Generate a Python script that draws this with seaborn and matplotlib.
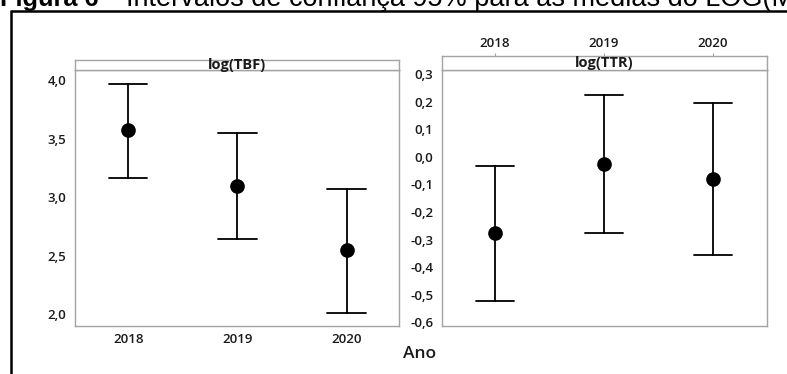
import matplotlib
matplotlib.use("Agg")
import matplotlib.pyplot as plt
from matplotlib.lines import Line2D
from matplotlib.ticker import FuncFormatter, FixedLocator
import numpy as np
import pandas as pd
import seaborn as sns

# Intervalos de confiança 95% por ano
anos = ["2018", "2019", "2020"]

tbf_media = [3.571, 3.096, 2.547]
tbf_inf = [3.166, 2.644, 2.008]
tbf_sup = [3.963, 3.545, 3.071]

ttr_media = [-0.276, -0.027, -0.079]
ttr_inf = [-0.522, -0.278, -0.355]
ttr_sup = [-0.035, 0.224, 0.195]

tbf_ticks = [2.0, 2.5, 3.0, 3.5, 4.0]
ttr_ticks = [-0.6, -0.5, -0.4, -0.3, -0.2, -0.1, 0.0, 0.1, 0.2, 0.3]


def intervalos(media, inf, sup):
    # three rows per year: lower limit, mean, upper limit
    rows = []
    for a, m, lo, hi in zip(anos, media, inf, sup):
        for v in (lo, m, hi):
            rows.append({"Ano": a, "valor": v})
    return pd.DataFrame(rows)


df_tbf = intervalos(tbf_media, tbf_inf, tbf_sup)
df_ttr = intervalos(ttr_media, ttr_inf, ttr_sup)

sns.set_style("white")
plt.rcParams["font.family"] = ["Open Sans", "DejaVu Sans"]

W, H = 787, 374
fig = plt.figure(figsize=(W / 100, H / 100), dpi=100)


def box(x0, y0, x1, y1):
    return [x0 / W, 1 - y1 / H, (x1 - x0) / W, (y1 - y0) / H]


GRAY = "#a3a3a3"
INK = "#1a1a1a"

ax1 = fig.add_axes(box(74.7, 70.3, 399, 326))
hd1 = fig.add_axes(box(74.7, 60, 399, 70.3))
ax2 = fig.add_axes(box(441.7, 70, 767.3, 326))
hd2 = fig.add_axes(box(441.7, 56, 767.3, 70))

fmt = FuncFormatter(lambda v, p: f"{v:.1f}".replace(".", ","))

for ax, df, ticks, ylim, xlim in (
    (ax1, df_tbf, tbf_ticks, (1.90, 4.083), (-0.49, 2.48)),
    (ax2, df_ttr, ttr_ticks, (-0.6134, 0.3145), (-0.49, 2.5)),
):
    sns.pointplot(
        data=df, x="Ano", y="valor", order=anos,
        estimator="median", errorbar=("pi", 100),
        capsize=0.35, color="black", linestyle="none",
        marker="o", markersize=8.5,
        err_kws={"linewidth": 1.3},
        ax=ax,
    )
    ax.set_xlim(*xlim)
    ax.set_ylim(*ylim)
    ax.yaxis.set_major_locator(FixedLocator(ticks))
    ax.yaxis.set_major_formatter(fmt)
    ax.set_xlabel("")
    ax.set_ylabel("")
    for s in ax.spines.values():
        s.set_color(GRAY)
        s.set_linewidth(1.0)
    ax.tick_params(axis="y", length=3, width=0.8, color=GRAY, pad=3, labelsize=9.5)
    for lab in ax.get_yticklabels():
        lab.set_fontweight("semibold")
        lab.set_color(INK)

# bottom category labels on the left panel
ax1.tick_params(axis="x", length=3, width=0.8, color=GRAY, pad=2, labelsize=9.5)
for lab in ax1.get_xticklabels():
    lab.set_fontweight("semibold")
    lab.set_color(INK)
ax2.tick_params(axis="x", bottom=False, labelbottom=False)

# panel headers
for hd, ax, title in ((hd1, ax1, "log(TBF)"), (hd2, ax2, "log(TTR)")):
    hd.set_xlim(ax.get_xlim())
    hd.set_ylim(0, 1)
    hd.set_yticks([])
    for s in hd.spines.values():
        s.set_color(GRAY)
        s.set_linewidth(1.0)
    hd.text(0.5, 0.5, title, transform=hd.transAxes, ha="center", va="center",
            fontsize=10.5, fontweight="bold", color=INK)

hd1.set_xticks([])
hd2.set_xticks(range(len(anos)))
hd2.set_xticklabels(anos)
hd2.xaxis.tick_top()
hd2.tick_params(axis="x", top=True, bottom=False, length=2.5, width=0.8,
                color=GRAY, pad=1.5, labelsize=9.5)
for lab in hd2.get_xticklabels():
    lab.set_fontweight("semibold")
    lab.set_color(INK)

fig.text(420 / W, 1 - 354 / H, "Ano", ha="center", va="center",
         fontsize=12.5, fontweight="semibold", color=INK)

# caption and page frame
cap_y = 1 - 6 / H
cap = dict(va="baseline", family="Liberation Sans", color="black")
fig.text(0 / W, cap_y, "Figura 6", ha="left", fontweight="bold", fontsize=18.3, **cap)
fig.text(103 / W, cap_y, "-", ha="left", fontsize=19.5, **cap)
fig.text(126 / W, cap_y,
         "Intervalos de confiança 95% para as médias do LOG(MTBF) e LOG(MTTR)",
         ha="left", fontsize=19.5, **cap)

lw = 1.8
fig.add_artist(Line2D([10.5 / W, 1.0], [1 - 10.5 / H, 1 - 10.5 / H],
                      transform=fig.transFigure, color="black", linewidth=lw,
                      solid_capstyle="butt"))
fig.add_artist(Line2D([10.5 / W, 10.5 / W], [0.0, 1 - 9.6 / H],
                      transform=fig.transFigure, color="black", linewidth=lw,
                      solid_capstyle="butt"))

fig.savefig("out.png", dpi=100, facecolor="white")
